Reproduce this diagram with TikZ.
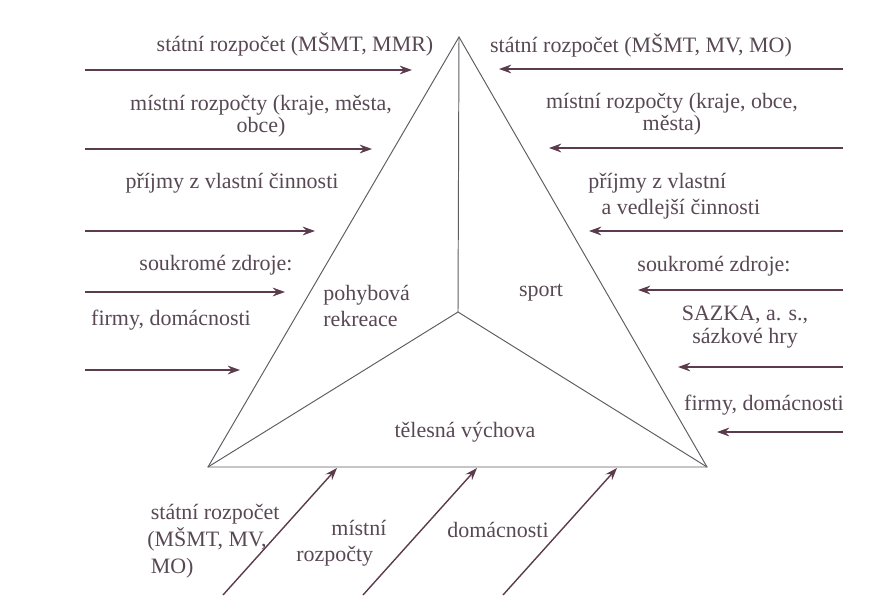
\documentclass[tikz,border=0pt]{standalone}
\usepackage{fontspec}
\setmainfont{Liberation Serif}
\usepackage{xcolor}
\usetikzlibrary{arrows.meta,positioning}

\definecolor{txtcol}{RGB}{88,72,84}
\definecolor{arrcol}{RGB}{92,60,76}
\definecolor{linecol}{RGB}{95,92,98}

\begin{document}
\begin{tikzpicture}[x=0.02cm,y=-0.02cm,
  zdroj/.style={font={\fontsize{12.5}{12.8}\selectfont}, text=txtcol, align=center, inner sep=0pt},
  tok/.style={-{Stealth[length=7pt,width=5pt]}, color=arrcol, line width=.8pt},
  hrana/.style={color=linecol, line width=.55pt}]
\useasboundingbox (0,0) rectangle (893,605);

% trojuhelnik
\coordinate (vrch) at (459,37);
\coordinate (vlevo) at (208,467);
\coordinate (vpravo) at (707,467);
\coordinate (stred) at (458,312);
\draw[hrana] (vrch) -- (vlevo) -- (vpravo) -- cycle;
\draw[hrana] (vrch) -- (stred);
\draw[hrana] (vlevo) -- (stred) -- (vpravo);

% oblasti
\node[zdroj, anchor=west, align=left, font={\fontsize{12.5}{15}\selectfont}] (rekreace) at (323,306) {pohybová\\rekreace};
\node[zdroj] (sport) at (541,293) {sport};
\node[zdroj] (vychova) at (465,432) {tělesná výchova};

%% ... zdroje vlevo
\foreach \y/\t [count=\i] in {70/412, 149/372, 231/315, 292/285, 370/240} {
  \coordinate (zl\i) at (85,\y);
  \coordinate (kl\i) at (\t,\y);
  \draw[tok] (zl\i) -- (kl\i);
}
\node[zdroj] (l1) at (295,44) {státní rozpočet (MŠMT, MMR)};
\node[zdroj] (l2) at (261,116) {místní rozpočty (kraje, města,\\obce)};
\node[zdroj] (l3) at (232,183) {příjmy z vlastní činnosti};
\node[zdroj] (l4) at (216,265) {soukromé zdroje:};
\node[zdroj] (l5) at (171,320) {firmy, domácnosti};

%% ... zdroje vpravo
\foreach \y/\t [count=\i] in {69/499, 148/549, 231/589, 290/638, 367/678, 432/717} {
  \coordinate (zp\i) at (843,\y);
  \coordinate (kp\i) at (\t,\y);
  \draw[tok] (zp\i) -- (kp\i);
}
\node[zdroj] (p1) at (641,45) {státní rozpočet (MŠMT, MV, MO)};
\node[zdroj] (p2) at (672,114) {místní rozpočty (kraje, obce,\\města)};
\node[zdroj, anchor=west, align=left, font={\fontsize{12.5}{15}\selectfont}] (p3) at (588,196)
  {příjmy z vlastní\\\hspace*{0.6em}a vedlejší činnosti};
\node[zdroj] (p4) at (714,266) {soukromé zdroje:};
\node[zdroj] (p5) at (745,327) {SAZKA, a. s.,\\sázkové hry};
\node[zdroj] (p6) at (764,405) {firmy, domácnosti};

% zdroje dole
\foreach \x [count=\i] in {223,363,503} {
  \coordinate (zd\i) at (\x,595);
  \coordinate (kd\i) at ({\x+114},468);
  \draw[tok] (zd\i) -- (kd\i);
}
\node[zdroj, anchor=west, align=left, font={\fontsize{12.5}{15.5}\selectfont}] (d1) at (147,541)
  {\hspace*{2pt}státní rozpočet\\(MŠMT, MV,\\\hspace*{2pt}MO)};
\node[zdroj, anchor=west, align=left, font={\fontsize{12.5}{15}\selectfont}] (d2) at (296,543)
  {\hspace*{1.6em}místní\\rozpočty};
\node[zdroj] (d3) at (498,530) {domácnosti};

\end{tikzpicture}
\end{document}
